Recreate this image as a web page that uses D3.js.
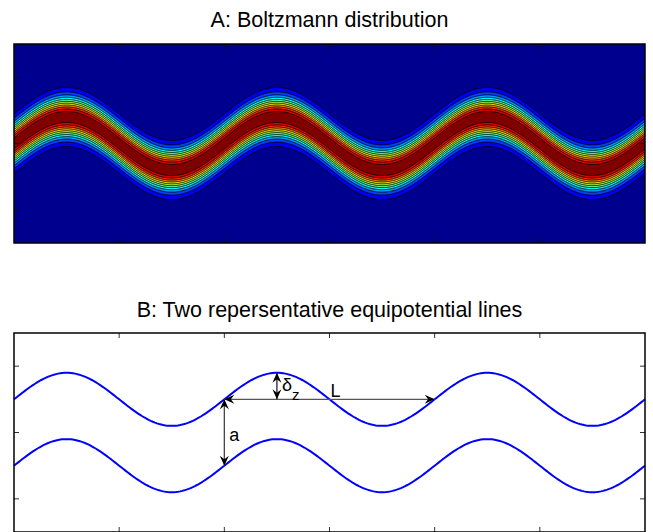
<!DOCTYPE html>
<html><head><meta charset="utf-8">
<script src="https://cdn.jsdelivr.net/npm/d3@7"></script>
<style>body{margin:0;background:#fff} svg{display:block}</style>
</head><body>
<svg id="chart" width="653" height="532"></svg>
<script>
// ---- data ----
const titles = ["A: Boltzmann distribution", "B: Two repersentative equipotential lines"];
const xDomain = [0, 6];
const yDomain = [-1.5, 1.5];
const xTicks = [1, 2, 3, 4, 5];
const yTicks = [-1, 0, 1];
const amplitude = 0.4;      // wave amplitude (delta_z)
const period = 2;           // wavelength L
const bandSigma = 0.2;      // width of Boltzmann band
const levels = [1,2,3,4,5,6,7,8,9,10,11].map(k => k / 12);
const lineOffsets = [0.5, -0.5];   // two equipotential lines, separation a
const deltaArrow = {x: 2.5, y0: 0.5, y1: 0.9};
const lArrow = {x0: 2, x1: 4, y: 0.5};
const aArrow = {x: 2, y0: 0.5, y1: -0.5};

// ---- layout ----
const panelA = {x0: 14, x1: 645, y0: 44, y1: 243};
const panelB = {x0: 14, x1: 645, y0: 333, y1: 532};
const font = "Liberation Sans, Arial, sans-serif";
const svg = d3.select("#chart");

// MATLAB jet(64)
function jet64() {
  const m = 64, n = 16;
  const u = [];
  for (let i = 1; i <= n; i++) u.push(i / n);
  for (let i = 1; i <= n - 1; i++) u.push(1);
  for (let i = n; i >= 1; i--) u.push(i / n);
  const R = new Array(m).fill(0), G = new Array(m).fill(0), B = new Array(m).fill(0);
  u.forEach((v, k) => {
    const i = k + 1;
    const g = 8 + i, r = g + n, b = g - n;
    if (g >= 1 && g <= m) G[g - 1] = v;
    if (r >= 1 && r <= m) R[r - 1] = v;
    if (b >= 1 && b <= m) B[b - 1] = v;
  });
  return d3.range(m).map(i => d3.rgb(R[i] * 255, G[i] * 255, B[i] * 255).formatHex());
}
const jet = jet64();
const nRegions = levels.length + 1;
const regionColor = k => jet[Math.round(k / (nRegions - 1) * 63)];

function wave(x) { return amplitude * Math.sin(2 * Math.PI * x / period); }

// ---- Panel A ----
const xA = d3.scaleLinear().domain(xDomain).range([panelA.x0, panelA.x1]);
const yA = d3.scaleLinear().domain(yDomain).range([panelA.y1, panelA.y0]);
const nx = panelA.x1 - panelA.x0, ny = panelA.y1 - panelA.y0;
const values = new Float64Array(nx * ny);
for (let j = 0; j < ny; j++) {
  const yv = yA.invert(panelA.y0 + j + 0.5);
  for (let i = 0; i < nx; i++) {
    const xv = xA.invert(panelA.x0 + i + 0.5);
    const d = yv - wave(xv);
    values[j * nx + i] = Math.exp(-d * d / (2 * bandSigma * bandSigma));
  }
}
svg.append("clipPath").attr("id", "clipA").append("rect")
  .attr("x", panelA.x0).attr("y", panelA.y0).attr("width", nx).attr("height", ny);
const gA = svg.append("g").attr("clip-path", "url(#clipA)");
gA.append("rect").attr("x", panelA.x0).attr("y", panelA.y0).attr("width", nx).attr("height", ny)
  .attr("fill", regionColor(0));
const contours = d3.contours().size([nx, ny]).thresholds(levels)(values);
const path = d3.geoPath(d3.geoIdentity().translate([panelA.x0, panelA.y0]));
gA.selectAll("path.band").data(contours).join("path")
  .attr("class", "band")
  .attr("d", path)
  .attr("fill", (d, i) => regionColor(i + 1))
  .attr("stroke", "#000").attr("stroke-width", 0.9);

function frame(p, xs, ys, tickColor) {
  const g = svg.append("g");
  const tl = 5;
  xTicks.forEach(t => {
    g.append("line").attr("x1", xs(t)).attr("x2", xs(t)).attr("y1", p.y0).attr("y2", p.y0 + tl)
      .attr("stroke", tickColor).attr("stroke-width", 1);
    g.append("line").attr("x1", xs(t)).attr("x2", xs(t)).attr("y1", p.y1).attr("y2", p.y1 - tl)
      .attr("stroke", tickColor).attr("stroke-width", 1);
  });
  yTicks.forEach(t => {
    g.append("line").attr("x1", p.x0).attr("x2", p.x0 + tl).attr("y1", ys(t)).attr("y2", ys(t))
      .attr("stroke", tickColor).attr("stroke-width", 1);
    g.append("line").attr("x1", p.x1).attr("x2", p.x1 - tl).attr("y1", ys(t)).attr("y2", ys(t))
      .attr("stroke", tickColor).attr("stroke-width", 1);
  });
  g.append("rect").attr("x", p.x0).attr("y", p.y0).attr("width", p.x1 - p.x0).attr("height", p.y1 - p.y0)
    .attr("fill", "none").attr("stroke", "#000").attr("stroke-width", 1.5);
}
frame(panelA, xA, yA, "#111");

svg.append("text").attr("x", (panelA.x0 + panelA.x1) / 2).attr("y", 27)
  .attr("text-anchor", "middle").attr("font-family", font)
  .attr("font-size", 21.5).attr("fill", "#000").text(titles[0]);

// ---- Panel B ----
const xB = d3.scaleLinear().domain(xDomain).range([panelB.x0, panelB.x1]);
const yB = d3.scaleLinear().domain(yDomain).range([panelB.y1, panelB.y0]);
const xs = d3.range(0, 6.0001, 0.02);
const line = d3.line().x(d => xB(d[0])).y(d => yB(d[1]));
lineOffsets.forEach(off => {
  svg.append("path").attr("d", line(xs.map(x => [x, off + wave(x)])))
    .attr("fill", "none").attr("stroke", "#0000ff").attr("stroke-width", 2);
});
frame(panelB, xB, yB, "#333");

svg.append("text").attr("x", (panelB.x0 + panelB.x1) / 2).attr("y", 317)
  .attr("text-anchor", "middle").attr("font-family", font)
  .attr("font-size", 21.5).attr("fill", "#000").text(titles[1]);

// arrows
function head(x, y, ang) {
  const L = 10, w = 4.5, notch = 6.5;
  const pts = [[0, 0], [-L, w], [-notch, 0], [-L, -w]].map(([px, py]) => [
    x + px * Math.cos(ang) - py * Math.sin(ang),
    y + px * Math.sin(ang) + py * Math.cos(ang)]);
  svg.append("path").attr("d", "M" + pts.map(p => p.join(",")).join("L") + "Z").attr("fill", "#000");
}
function dblArrow(x1, y1, x2, y2, color) {
  svg.append("line").attr("x1", x1).attr("y1", y1).attr("x2", x2).attr("y2", y2)
    .attr("stroke", color).attr("stroke-width", 1.3);
  const ang = Math.atan2(y2 - y1, x2 - x1);
  head(x2, y2, ang);
  head(x1, y1, ang + Math.PI);
}
dblArrow(xB(lArrow.x0), yB(lArrow.y), xB(lArrow.x1), yB(lArrow.y), "#555");
dblArrow(xB(aArrow.x), yB(aArrow.y0), xB(aArrow.x), yB(aArrow.y1), "#444");
dblArrow(xB(deltaArrow.x), yB(deltaArrow.y0), xB(deltaArrow.x), yB(deltaArrow.y1), "#222");

const dt = svg.append("text").attr("x", xB(deltaArrow.x) + 5).attr("y", 391)
  .attr("font-family", font).attr("font-size", 18);
dt.append("tspan").text("δ");
dt.append("tspan").attr("font-size", 15).attr("dy", 9).text("z");
svg.append("text").attr("x", xB(3) + 1).attr("y", 397).attr("font-family", font).attr("font-size", 18).text("L");
svg.append("text").attr("x", xB(aArrow.x) + 5).attr("y", 441).attr("font-family", font).attr("font-size", 18).text("a");
</script>
</body></html>
